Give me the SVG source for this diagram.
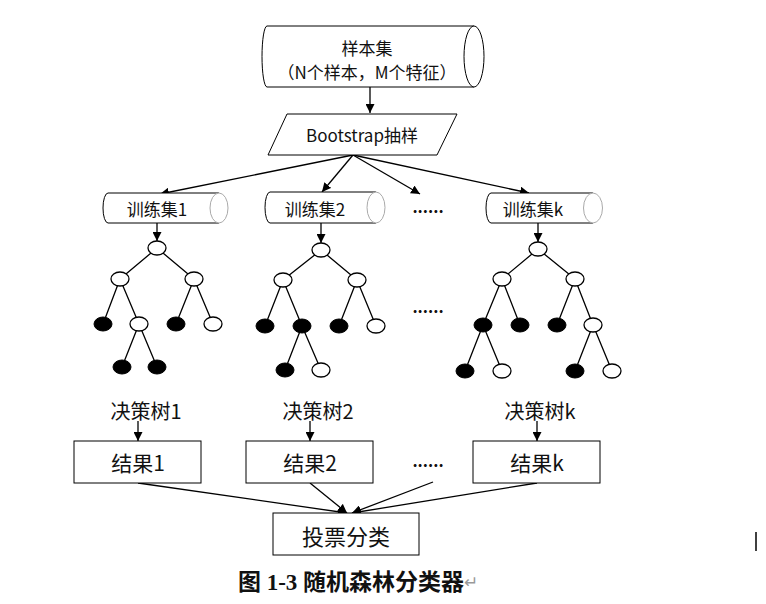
<svg xmlns="http://www.w3.org/2000/svg" width="766" height="604" viewBox="0 0 766 604">
<defs>
<marker id="arr" viewBox="0 0 10 10" refX="10" refY="5" markerWidth="9" markerHeight="9" markerUnits="userSpaceOnUse" orient="auto">
<path d="M0,0 L10,5 L0,10 Z" fill="#000"/>
</marker>
</defs>
<style>
text{font-family:"Noto Sans CJK SC","Liberation Sans",sans-serif;fill:#111;text-anchor:middle;dominant-baseline:central}
.cyl{fill:#fff;stroke:#000;stroke-width:1}
.cap{fill:#fff;stroke:#aaa;stroke-width:1}
.box{fill:#fff;stroke:#000;stroke-width:1}
.e{stroke-width:1.3;stroke:#000}
.w{fill:#fff;stroke:#000;stroke-width:1.3}
.b{fill:#000;stroke:#000;stroke-width:1}
.con{stroke:#000;stroke-width:1.3;fill:none}
.dots{font-size:16px;font-weight:bold}
</style>
<rect width="766" height="604" fill="#fff"/>

<g id="connectors">
<line class="con" x1="370" y1="87" x2="370" y2="113" marker-end="url(#arr)"/>
<line class="con" x1="353" y1="155" x2="160" y2="194" marker-end="url(#arr)"/>
<line class="con" x1="353" y1="155" x2="322" y2="192" marker-end="url(#arr)"/>
<line class="con" x1="353" y1="155" x2="420" y2="194" marker-end="url(#arr)"/>
<line class="con" x1="353" y1="155" x2="529" y2="193" marker-end="url(#arr)"/>
<line class="con" x1="157" y1="223" x2="157" y2="241" marker-end="url(#arr)"/>
<line class="con" x1="321" y1="223" x2="321" y2="243" marker-end="url(#arr)"/>
<line class="con" x1="538" y1="223" x2="538" y2="242" marker-end="url(#arr)"/>
<line class="con" x1="138" y1="421" x2="138" y2="441" marker-end="url(#arr)"/>
<line class="con" x1="310" y1="421" x2="310" y2="441" marker-end="url(#arr)"/>
<line class="con" x1="537" y1="421" x2="537" y2="441" marker-end="url(#arr)"/>
<line class="con" x1="138" y1="483" x2="347" y2="513" marker-end="url(#arr)"/>
<line class="con" x1="310" y1="483" x2="347" y2="513" marker-end="url(#arr)"/>
<line class="con" x1="433" y1="482" x2="352" y2="513" marker-end="url(#arr)"/>
<line class="con" x1="537" y1="483" x2="352" y2="513" marker-end="url(#arr)"/>
</g>

<g id="sample-set">
<path class="cyl" d="M474,26 L267,26 A5,30.5 0 0 0 267,87 L474,87"/>
<ellipse class="cyl" cx="474" cy="56.5" rx="10" ry="30.5"/>
<text x="367" y="47" font-size="17">样本集</text>
<text x="367" y="71" font-size="17">（N个样本，M个特征）</text>
</g>

<g id="bootstrap">
<polygon class="box" points="287,114 457,114 437,155 268,155"/>
<text x="362" y="134" font-size="17">Bootstrap抽样</text>
</g>

<g id="train1">
<path class="cyl" d="M219,193 L108,193 A5,15 0 0 0 108,223 L219,223"/>
<ellipse class="cap" cx="219" cy="208" rx="9" ry="15"/>
<text x="157" y="208" font-size="17">训练集1</text>
</g>
<g id="train2">
<path class="cyl" d="M376,192 L270,192 A5,15.5 0 0 0 270,223 L376,223"/>
<ellipse class="cap" cx="376" cy="207.5" rx="9" ry="15.5"/>
<text x="315" y="208" font-size="17">训练集2</text>
</g>
<g id="traink">
<path class="cyl" d="M593,193 L491,193 A5,15 0 0 0 491,223 L593,223"/>
<ellipse class="cap" cx="593" cy="208" rx="9.5" ry="15"/>
<text x="533" y="208" font-size="17">训练集k</text>
</g>

<text x="428" y="206" class="dots">......</text>
<text x="428" y="306" class="dots">......</text>
<text x="428" y="460" class="dots">......</text>

<g id="tree1">
<path class="e" d="M157,248 L120,279 M157,248 L194,279 M120,279 L103,324 M120,279 L139,324 M194,279 L176,324 M194,279 L213,324 M139,324 L122,367 M139,324 L157,367"/>
<ellipse class="w" cx="157" cy="248" rx="9" ry="7"/>
<ellipse class="w" cx="120" cy="279" rx="9" ry="7"/>
<ellipse class="w" cx="194" cy="279" rx="9" ry="7"/>
<ellipse class="b" cx="103" cy="324" rx="9" ry="7"/>
<ellipse class="w" cx="139" cy="324" rx="9" ry="7"/>
<ellipse class="b" cx="176" cy="324" rx="9" ry="7"/>
<ellipse class="w" cx="213" cy="324" rx="9" ry="7"/>
<ellipse class="b" cx="122" cy="367" rx="9" ry="7"/>
<ellipse class="b" cx="157" cy="367" rx="9" ry="7"/>
</g>

<g id="tree2">
<path class="e" d="M321,250 L283,280 M321,250 L357,280 M283,280 L265,326 M283,280 L302,326 M357,280 L339,326 M357,280 L376,326 M302,326 L285,370 M302,326 L321,370"/>
<ellipse class="w" cx="321" cy="250" rx="9" ry="7"/>
<ellipse class="w" cx="283" cy="280" rx="9" ry="7"/>
<ellipse class="w" cx="357" cy="280" rx="9" ry="7"/>
<ellipse class="b" cx="265" cy="326" rx="9" ry="7"/>
<ellipse class="b" cx="302" cy="326" rx="9" ry="7"/>
<ellipse class="b" cx="339" cy="326" rx="9" ry="7"/>
<ellipse class="w" cx="376" cy="326" rx="9" ry="7"/>
<ellipse class="b" cx="285" cy="370" rx="9" ry="7"/>
<ellipse class="w" cx="321" cy="370" rx="9" ry="7"/>
</g>

<g id="treek">
<path class="e" d="M538,249 L502,279 M538,249 L575,279 M502,279 L483,325 M502,279 L520,325 M575,279 L557,325 M575,279 L593,325 M483,325 L465,371 M483,325 L502,371 M593,325 L575,371 M593,325 L612,371"/>
<ellipse class="w" cx="538" cy="249" rx="9" ry="7"/>
<ellipse class="w" cx="502" cy="279" rx="9" ry="7"/>
<ellipse class="w" cx="575" cy="279" rx="9" ry="7"/>
<ellipse class="b" cx="483" cy="325" rx="9" ry="7"/>
<ellipse class="b" cx="520" cy="325" rx="9" ry="7"/>
<ellipse class="b" cx="557" cy="325" rx="9" ry="7"/>
<ellipse class="w" cx="593" cy="325" rx="9" ry="7"/>
<ellipse class="b" cx="465" cy="371" rx="9" ry="7"/>
<ellipse class="w" cx="502" cy="371" rx="9" ry="7"/>
<ellipse class="b" cx="575" cy="371" rx="9" ry="7"/>
<ellipse class="w" cx="612" cy="371" rx="9" ry="7"/>
</g>

<g id="labels">
<text x="146" y="410" font-size="20">决策树1</text>
<text x="318" y="410" font-size="20">决策树2</text>
<text x="540" y="410" font-size="20">决策树k</text>
</g>

<g id="result1">
<rect class="box" x="74" y="441" width="127" height="42"/>
<text x="138" y="462" font-size="21">结果1</text>
</g>
<g id="result2">
<rect class="box" x="246" y="441" width="127" height="42"/>
<text x="310" y="462" font-size="21">结果2</text>
</g>
<g id="resultk">
<rect class="box" x="473" y="441" width="127" height="42"/>
<text x="537" y="462" font-size="21">结果k</text>
</g>

<g id="vote">
<rect class="box" x="273" y="513" width="146" height="42"/>
<text x="346" y="535" font-size="22">投票分类</text>
</g>

<text x="358" y="582" font-size="23" font-weight="bold" style="font-family:'Liberation Serif','Noto Sans CJK SC',serif">图 1-3 随机森林分类器<tspan fill="#999" font-weight="normal" font-size="17">↵</tspan></text>
<line x1="756" y1="532" x2="756" y2="551" stroke="#000" stroke-width="1.5"/>
</svg>
